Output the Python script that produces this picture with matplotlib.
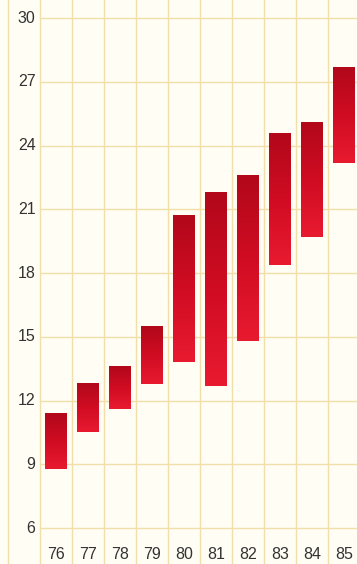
import numpy as np
import matplotlib
matplotlib.use("Agg")
import matplotlib.pyplot as plt
from matplotlib.colors import LinearSegmentedColormap

years = [76, 77, 78, 79, 80, 81, 82, 83, 84, 85]
lows = [8.8, 10.5, 11.6, 12.8, 13.8, 12.7, 14.8, 18.4, 19.7, 23.2]
highs = [11.4, 12.8, 13.6, 15.5, 20.7, 21.8, 22.6, 24.6, 25.1, 27.7]
yticks = [6, 9, 12, 15, 18, 21, 24, 27, 30]

bg = "#fffdf4"
grid_col = "#f0dfa8"
txt_col = "#333333"

fig = plt.figure(figsize=(3.57, 5.64), dpi=100, facecolor=bg)
ax = fig.add_axes([0, 0, 1, 1])
ax.set_facecolor(bg)
ax.axis("off")

# column edges
for x in np.arange(74.5, 85.0, 1.0):
    ax.axvline(x, color=grid_col, lw=1.0, zorder=0)
# horizontal lines start at the first year column
for v in yticks:
    ax.hlines(v, 75.5, 86, color=grid_col, lw=1.0, zorder=0)

cmap = LinearSegmentedColormap.from_list("redgrad", ["#e81a30", "#d00c22", "#b2081a"])
grad = np.linspace(0, 1, 128).reshape(-1, 1)
w = 0.68
for yr, lo, hi in zip(years, lows, highs):
    ax.imshow(grad, extent=[yr - w / 2, yr + w / 2, lo, hi], origin="lower",
              aspect="auto", cmap=cmap, zorder=2, interpolation="bilinear")

ax.set_xlim(74.25, 85.41)
ax.set_ylim(4.31, 30.85)

for v in yticks:
    ax.text(75.36, v, str(v), ha="right", va="center", fontsize=11.5,
            color=txt_col, family="Liberation Sans")
for yr in years:
    ax.text(yr, 4.78, str(yr), ha="center", va="center", fontsize=11.5,
            color=txt_col, family="Liberation Sans")

fig.savefig("out.png", dpi=100, facecolor=bg)
